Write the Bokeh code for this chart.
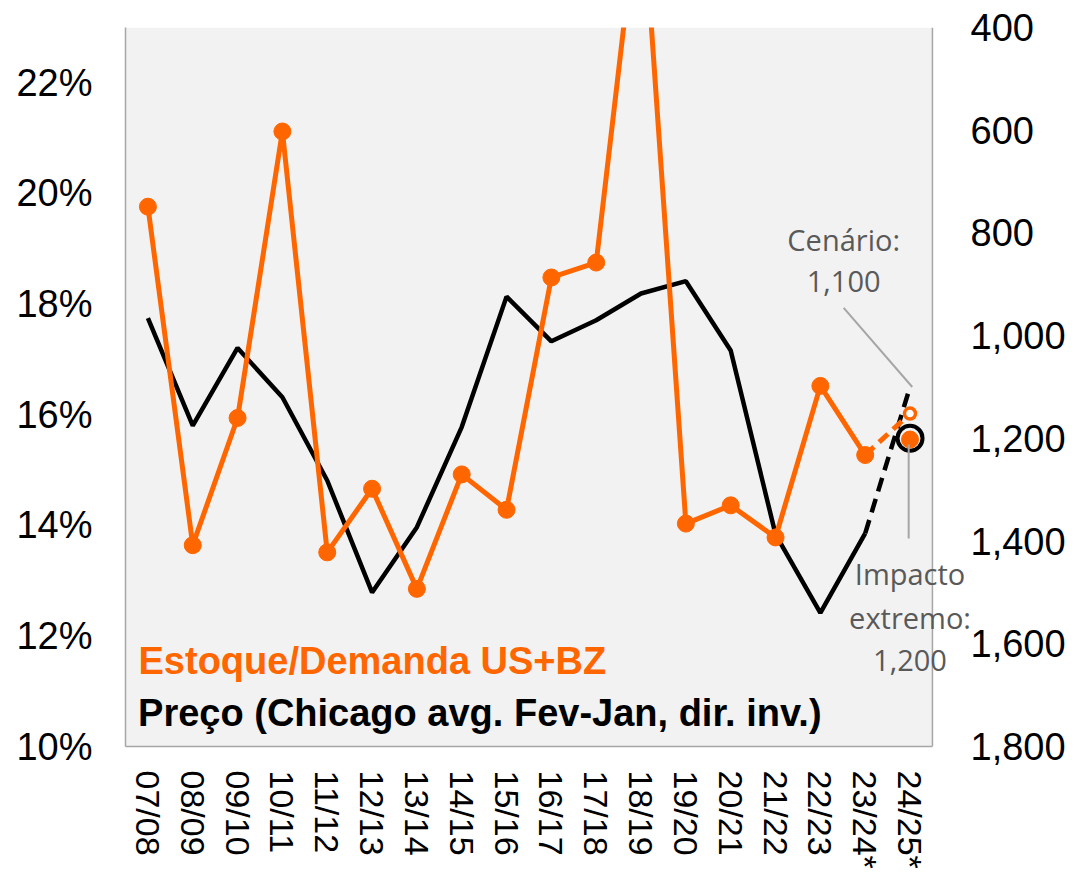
import math
from bokeh.plotting import figure
from bokeh.models import (Range1d, LinearAxis, FixedTicker, NumeralTickFormatter,
                          PrintfTickFormatter, Label, ColumnDataSource, BoxAnnotation, Span)
from bokeh.embed import file_html
from bokeh.resources import INLINE

# ---------------- data ----------------
seasons = ["07/08", "08/09", "09/10", "10/11", "11/12", "12/13", "13/14", "14/15", "15/16",
           "16/17", "17/18", "18/19", "19/20", "20/21", "21/22", "22/23", "23/24*", "24/25*"]
# Estoque/Demanda US+BZ (%), 07/08 .. 23/24*
stock_ratio = [19.76, 13.64, 15.94, 21.12, 13.51, 14.66, 12.85, 14.92, 14.28,
               18.48, 18.75, 25.7, 14.03, 14.36, 13.78, 16.52, 15.27]
# Preço (Chicago avg. Fev-Jan), 07/08 .. 23/24*
price = [966, 1175, 1024, 1120, 1282, 1500, 1373, 1178, 924,
         1011, 970, 918, 894, 1029, 1387, 1540, 1385]
# 24/25* projections
scenario_ratio = 16.02
extreme_ratio = 15.55
scenario_price = 1100
extreme_price = 1200

left_ticks = [10, 12, 14, 16, 18, 20, 22]
right_ticks = [400, 600, 800, 1000, 1200, 1400, 1600, 1800]

ORANGE = "#FF6600"
GRAY_TXT = "#595959"
GRAY_LINE = "#A6A6A6"
TICK_FONT = "Liberation Sans"

n = len(seasons)
xpos = list(range(n))          # category positions
last = n - 1                   # 24/25*
prev = n - 2                   # 23/24*

# ---------------- figure ----------------
# the frame is a little wider than the category area so that the notes at the
# right edge are not clipped; the grey plot area covers the categories only
p = figure(frame_width=850, frame_height=719,
           x_range=Range1d(-0.5, -0.5 + 850 / 44.83),
           y_range=Range1d(10, 23),
           output_backend="svg", toolbar_location=None,
           min_border_left=125, min_border_right=90, min_border_top=27, min_border_bottom=132)
p.extra_y_ranges = {"price": Range1d(start=1800, end=400)}
p.background_fill_color = "white"
p.border_fill_color = "white"
p.outline_line_color = None
p.xgrid.visible = False
p.ygrid.visible = False

p.add_layout(BoxAnnotation(left=-0.5, right=n - 0.5, fill_color="#F2F2F2", fill_alpha=1,
                           line_color=None, level="underlay"))
p.add_layout(Span(location=n - 0.5, dimension="height", line_color=GRAY_LINE, line_width=1.5,
                  level="underlay"))

# left axis
ya = p.yaxis[0]
ya.ticker = FixedTicker(ticks=left_ticks)
ya.formatter = PrintfTickFormatter(format="%d%%")
ya.major_label_text_font = TICK_FONT
ya.major_label_text_font_size = "38px"
ya.major_label_text_color = "black"
ya.axis_line_color = GRAY_LINE
ya.axis_line_width = 1.5
ya.major_tick_line_color = None
ya.minor_tick_line_color = None
ya.major_tick_out = 0
ya.major_tick_in = 0
ya.major_label_standoff = 33

# right axis
ra = LinearAxis(y_range_name="price", ticker=FixedTicker(ticks=right_ticks),
                formatter=NumeralTickFormatter(format="0,0"))
ra.major_label_text_font = TICK_FONT
ra.major_label_text_font_size = "38px"
ra.major_label_text_color = "black"
ra.axis_line_color = None
ra.major_tick_line_color = None
ra.minor_tick_line_color = None
ra.major_tick_out = 0
ra.major_tick_in = 0
ra.major_label_standoff = -5
p.add_layout(ra, "right")

# bottom axis
xa = p.xaxis[0]
xa.ticker = FixedTicker(ticks=xpos)
xa.major_label_overrides = {i: s for i, s in zip(xpos, seasons)}
xa.bounds = (-0.5, n - 0.5)
xa.major_label_orientation = -math.pi / 2
xa.major_label_text_font = TICK_FONT
xa.major_label_text_font_size = "34px"
xa.major_label_text_color = "black"
xa.axis_line_color = GRAY_LINE
xa.axis_line_width = 1.5
xa.major_tick_line_color = None
xa.minor_tick_line_color = None
xa.major_tick_out = 0
xa.major_tick_in = 0
xa.major_label_standoff = 24

# ---------------- series ----------------
src = ColumnDataSource(dict(x=xpos[:len(stock_ratio)], ratio=stock_ratio, price=price))

p.line("x", "price", source=src, y_range_name="price", line_color="black", line_width=4.5)
p.line([prev, last], [price[-1], scenario_price], y_range_name="price",
       line_color="black", line_width=4.5, line_dash="14 8")

p.line("x", "ratio", source=src, line_color=ORANGE, line_width=5)
p.scatter("x", "ratio", source=src, size=17, fill_color=ORANGE, line_color=ORANGE)
p.line([prev, last], [stock_ratio[-1], scenario_ratio],
       line_color=ORANGE, line_width=5, line_dash="12 7")

# 24/25* markers
p.scatter([last], [extreme_price], y_range_name="price", size=25,
          fill_color=None, line_color="black", line_width=4)
p.scatter([last], [extreme_ratio], size=17, fill_color=ORANGE, line_color=ORANGE)
p.scatter([last], [scenario_ratio], size=11, fill_color="white",
          line_color=ORANGE, line_width=3.5)

# leader lines for the annotations
p.segment(x0=[last - 1.48], y0=[946], x1=[last + 0.05], y1=[scenario_price],
          y_range_name="price", line_color=GRAY_LINE, line_width=2)
p.segment(x0=[last - 0.03], y0=[extreme_price + 12], x1=[last - 0.03], y1=[1395],
          y_range_name="price", line_color=GRAY_LINE, line_width=2)

# ---------------- texts ----------------
def note(txt, x, y, color=GRAY_TXT, size="29px", font="Open Sans", align="center", style="normal"):
    p.add_layout(Label(x=x, y=y, text=txt, text_color=color, text_font_size=size,
                       text_font=font, text_align=align, text_baseline="alphabetic",
                       text_font_style=style))

note("Cenário:", last - 1.48, 19.16)
note("1,100", last - 1.48, 18.40)
note("Impacto", last, 13.125)
note("extremo:", last, 12.34)
note("1,200", last, 11.556)

note("Estoque/Demanda US+BZ", -0.21, 11.545, color=ORANGE, size="38px",
     font=TICK_FONT, align="left", style="bold")
note("Preço (Chicago avg. Fev-Jan, dir. inv.)", -0.22, 10.61, color="black", size="38px",
     font=TICK_FONT, align="left", style="bold")

open("out.html", "w").write(file_html(p, INLINE))
